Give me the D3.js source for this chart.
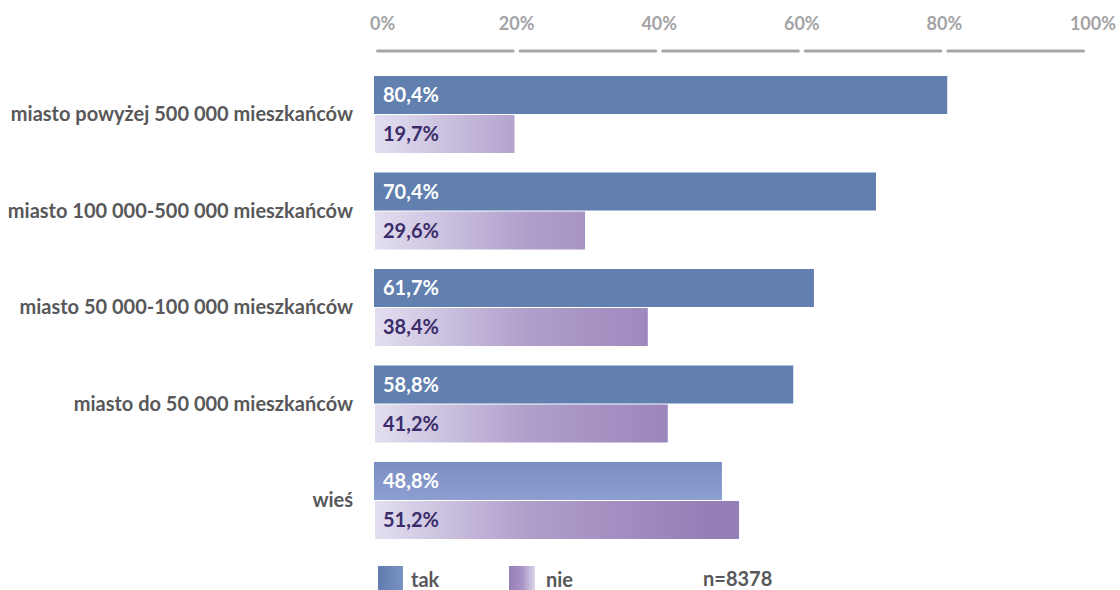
<!DOCTYPE html>
<html>
<head>
<meta charset="utf-8">
<script src="https://cdn.jsdelivr.net/npm/d3@7"></script>
<style>
  body { margin: 0; background: #fff; }
  text { font-family: Lato, "Open Sans", sans-serif; font-weight: bold; }
</style>
</head>
<body>
<div id="chart"></div>
<script>
var categories = [
    "miasto powyżej 500 000 mieszkańców",
    "miasto 100 000-500 000 mieszkańców",
    "miasto 50 000-100 000 mieszkańców",
    "miasto do 50 000 mieszkańców",
    "wieś"
];
var takValues = [80.4, 70.4, 61.7, 58.8, 48.8];
var nieValues = [19.7, 29.6, 38.4, 41.2, 51.2];
var ticks = [0, 20, 40, 60, 80, 100];
var seriesNames = ["tak", "nie"];
var sampleNote = "n=8378";

var width = 1120, height = 590;
var margin = { top: 76, left: 374, right: 33 };
var step = 96.5;

var svg = d3.select("#chart").append("svg")
    .attr("width", width)
    .attr("height", height);

var x = d3.scaleLinear().domain([0, 100]).range([margin.left, width - margin.right]);
var y = d3.scaleBand().domain(categories)
    .range([margin.top, margin.top + step * (categories.length - 0.2)])
    .paddingInner(0.2).paddingOuter(0);

var fmt = function(v) { return d3.format(".1f")(v).replace(".", ",") + "%"; };

var defs = svg.append("defs");
var nieGrad = defs.append("linearGradient").attr("id", "nieGrad")
    .attr("gradientUnits", "userSpaceOnUse")
    .attr("x1", x(0)).attr("x2", x(47)).attr("y1", 0).attr("y2", 0);
nieGrad.append("stop").attr("offset", 0).attr("stop-color", "#e3dff0");
nieGrad.append("stop").attr("offset", 0.45).attr("stop-color", "#b09fcb");
nieGrad.append("stop").attr("offset", 1).attr("stop-color", "#957eb6");

var wiesGrad = defs.append("linearGradient").attr("id", "wiesGrad")
    .attr("x1", 0).attr("x2", 0).attr("y1", 0).attr("y2", 1);
wiesGrad.append("stop").attr("offset", 0).attr("stop-color", "#7b8ec2");
wiesGrad.append("stop").attr("offset", 1).attr("stop-color", "#8d9fd1");

var legTak = defs.append("linearGradient").attr("id", "legTak");
legTak.append("stop").attr("offset", 0).attr("stop-color", "#5f7cae");
legTak.append("stop").attr("offset", 1).attr("stop-color", "#7a92c4");

var legNie = defs.append("linearGradient").attr("id", "legNie");
legNie.append("stop").attr("offset", 0).attr("stop-color", "#957eb6");
legNie.append("stop").attr("offset", 0.5).attr("stop-color", "#a793c6");
legNie.append("stop").attr("offset", 1).attr("stop-color", "#dcd6ec");

// axis on top: segmented grey line
var axisY = 51;
svg.selectAll(".seg")
    .data(d3.pairs(ticks))
    .enter().append("line")
    .attr("x1", function(d) { return x(d[0]) + 3.5; })
    .attr("x2", function(d) { return x(d[1]) - 3.5; })
    .attr("y1", axisY).attr("y2", axisY)
    .attr("stroke", "#a6a6a8")
    .attr("stroke-width", 3)
    .attr("stroke-linecap", "round");

svg.selectAll(".tick")
    .data(ticks)
    .enter().append("text")
    .attr("x", function(d) {
        if (d === 0) return x(d) - 4;
        if (d === 100) return x(d) + 29;
        return x(d);
    })
    .attr("y", 30)
    .attr("text-anchor", function(d) { return d === 0 ? "start" : (d === 100 ? "end" : "middle"); })
    .attr("fill", "#a3a3a5")
    .style("font-size", "18px")
    .text(function(d) { return d + "%"; });

var barH = 38;
var groups = svg.selectAll(".grp")
    .data(categories)
    .enter().append("g")
    .attr("transform", function(d) { return "translate(0," + y(d) + ")"; });

groups.append("rect")
    .attr("x", x(0))
    .attr("y", 0)
    .attr("width", function(d, i) { return x(takValues[i]) - x(0); })
    .attr("height", barH)
    .attr("fill", function(d, i) { return i === categories.length - 1 ? "url(#wiesGrad)" : "#617faf"; });

groups.append("rect")
    .attr("x", x(0) + 1)
    .attr("y", barH + 1)
    .attr("width", function(d, i) { return x(nieValues[i]) - x(0) - 1; })
    .attr("height", barH)
    .attr("fill", "url(#nieGrad)");

groups.append("text")
    .attr("x", x(0) + 9)
    .attr("y", barH / 2 + 7)
    .attr("fill", "#ffffff")
    .style("font-size", "20px")
    .text(function(d, i) { return fmt(takValues[i]); });

groups.append("text")
    .attr("x", x(0) + 9)
    .attr("y", barH + 1 + barH / 2 + 7)
    .attr("fill", "#3a2d6a")
    .style("font-size", "20px")
    .text(function(d, i) { return fmt(nieValues[i]); });

groups.append("text")
    .attr("x", 353)
    .attr("y", barH + 7)
    .attr("text-anchor", "end")
    .attr("fill", "#58585a")
    .style("font-size", "20px")
    .text(function(d) { return d; });

// legend
var legend = svg.append("g");
legend.append("rect").attr("x", 378).attr("y", 566).attr("width", 25).attr("height", 24).attr("fill", "url(#legTak)");
legend.append("text").attr("x", 411).attr("y", 587).attr("fill", "#58585a").style("font-size", "20px").text(seriesNames[0]);
legend.append("rect").attr("x", 509).attr("y", 566).attr("width", 26).attr("height", 24).attr("fill", "url(#legNie)");
legend.append("text").attr("x", 546).attr("y", 587).attr("fill", "#58585a").style("font-size", "20px").text(seriesNames[1]);
legend.append("text").attr("x", 703).attr("y", 586).attr("fill", "#58585a").style("font-size", "20px").text(sampleNote);
</script>
</body>
</html>
